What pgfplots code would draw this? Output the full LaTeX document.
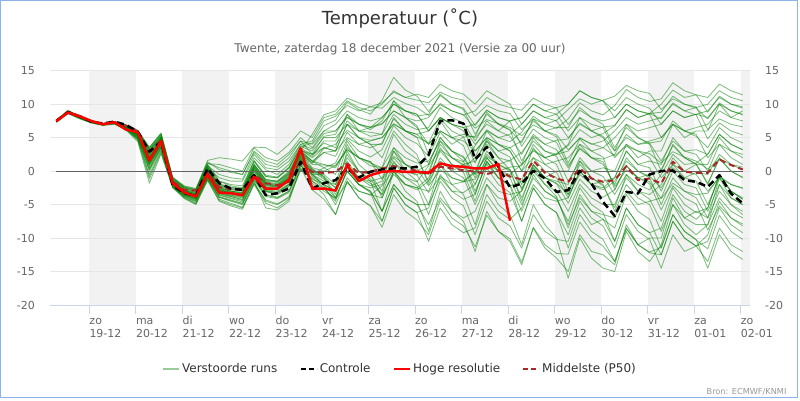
\documentclass[border=0pt]{standalone}
\usepackage{fontspec}
\setmainfont{DejaVu Sans}
\usepackage{pgfplots}
\pgfplotsset{compat=1.18}
\definecolor{ensgreen}{RGB}{0,128,0}
\definecolor{axblue}{RGB}{204,214,235}
\definecolor{gridgray}{RGB}{230,230,230}
\definecolor{bandgray}{RGB}{242,242,242}
\definecolor{labgray}{RGB}{102,102,102}
\definecolor{titlegray}{RGB}{51,51,51}
\definecolor{p50red}{RGB}{170,40,40}
\definecolor{frameblue}{RGB}{140,180,235}
\definecolor{zerogray}{RGB}{100,100,100}
\definecolor{credgray}{RGB}{153,153,153}
\pgfplotsset{ensline/.style={ensgreen, opacity=0.5, line width=0.85pt, line join=round}}
\newcommand\mem[1]{\addplot[ensline, forget plot] table[x expr=\coordindex, y index=0, header=false, row sep=\\]{#1};}
\pgfplotsset{common/.style={at={(50pt,95pt)}, anchor=south west, width=700pt, height=234.3pt, scale only axis,
  xmin=-0.545, xmax=59.63, ymin=-20, ymax=15,
  xtick={2.8333,6.8333,10.8333,14.8333,18.8333,22.8333,26.8333,30.8333,34.8333,38.8333,42.8333,46.8333,50.8333,54.8333,58.8333},
  ytick={-20,-15,-10,-5,0,5,10,15},
  yticklabels={-20,-15,-10,-5,0,5,10,15},
  axis line style={draw=none}, ytick style={draw=none},
  tick label style={font=\fontsize{11}{13}\selectfont, text=labgray, inner sep=0pt}}}
\begin{document}
\begin{tikzpicture}[x=1pt,y=1pt]
\useasboundingbox (0,0) rectangle (800,400);
\fill[white] (0,0) rectangle (800,400);
\node[anchor=base, font=\fontsize{18}{22}\selectfont, text=titlegray] at (400,375) {Temperatuur (˚C)};
\node[anchor=base, font=\fontsize{12}{14}\selectfont, text=labgray] at (400,348) {Twente, zaterdag 18 december 2021 (Versie za 00 uur)};
\node[anchor=base east, font=\fontsize{8.2}{10}\selectfont, text=credgray] at (790,6) {Bron: ECMWF/KNMI};

\begin{axis}[common, major tick length=0pt, xtick style={draw=none},
  yticklabel pos=right, yticklabel style={anchor=west, xshift=15pt},
  xticklabels={19-12,20-12,21-12,22-12,23-12,24-12,25-12,26-12,27-12,28-12,29-12,30-12,31-12,01-01,02-01},
  xticklabel style={anchor=base west, yshift=-32.3pt}]
\fill[bandgray] (axis cs:2.8333,-20) rectangle (axis cs:6.8333,15);
\fill[bandgray] (axis cs:10.8333,-20) rectangle (axis cs:14.8333,15);
\fill[bandgray] (axis cs:18.8333,-20) rectangle (axis cs:22.8333,15);
\fill[bandgray] (axis cs:26.8333,-20) rectangle (axis cs:30.8333,15);
\fill[bandgray] (axis cs:34.8333,-20) rectangle (axis cs:38.8333,15);
\fill[bandgray] (axis cs:42.8333,-20) rectangle (axis cs:46.8333,15);
\fill[bandgray] (axis cs:50.8333,-20) rectangle (axis cs:54.8333,15);
\fill[bandgray] (axis cs:58.8333,-20) rectangle (axis cs:59.63,15);
\end{axis}

\begin{axis}[common, clip=false, ymajorgrids, grid style={gridgray, line width=1pt},
  yticklabel style={anchor=east, xshift=-6pt},
  xtick pos=left, tick align=outside, major tick length=9pt, xtick style={axblue, line width=1pt},
  xticklabels={zo,ma,di,wo,do,vr,za,zo,ma,di,wo,do,vr,za,zo},
  xticklabel style={anchor=base west, yshift=-10pt},
  legend style={at={(0.5,-0.273)}, anchor=center, draw=none, fill=none, legend columns=4,
    font=\fontsize{12}{14}\selectfont, text=titlegray,
    /tikz/every even column/.append style={column sep=20pt}},
  legend cell align=left,
  legend image code/.code={\draw[#1] (0pt,0pt) -- (16pt,0pt);}]
\draw[axblue, line width=1pt] (rel axis cs:0,0) -- (rel axis cs:1,0);
\addlegendimage{ensgreen, opacity=0.4, line width=2pt}
\addlegendentry{Verstoorde runs}
\addlegendimage{black, line width=2.5pt, dash pattern=on 5pt off 3pt}
\addlegendentry{Controle}
\addlegendimage{red, line width=2.5pt}
\addlegendentry{Hoge resolutie}
\addlegendimage{p50red, line width=2pt, dash pattern=on 5pt off 3pt}
\addlegendentry{Middelste (P50)}

\mem{7.4\\8.9\\8.0\\7.3\\7.1\\7.4\\6.5\\5.2\\2.0\\4.8\\-1.5\\-2.8\\-3.5\\0.2\\-2.5\\-3.0\\-3.2\\0.5\\-1.8\\-2.2\\-0.8\\3.0\\5.5\\8.4\\9.0\\10.9\\10.2\\9.6\\9.4\\11.0\\10.1\\9.5\\8.3\\9.9\\9.0\\8.4\\6.4\\7.7\\7.1\\6.5\\5.3\\6.9\\6.0\\5.4\\3.2\\4.9\\4.1\\3.5\\2.3\\3.7\\3.0\\2.6\\1.2\\2.9\\2.1\\1.5\\0.3\\1.8\\1.0\\0.6\\}
\mem{7.6\\9.1\\8.2\\7.5\\7.0\\7.2\\6.8\\5.9\\3.2\\5.1\\-1.2\\-2.5\\-2.9\\0.9\\-1.5\\-2.2\\-2.5\\1.5\\-0.8\\-1.0\\0.5\\3.6\\4.2\\6.8\\7.6\\10.3\\9.2\\8.5\\10.6\\14.0\\12.1\\11.2\\8.9\\11.3\\10.0\\9.4\\6.8\\9.1\\8.0\\7.4\\3.7\\6.3\\5.0\\4.3\\0.8\\3.3\\2.0\\1.4\\-2.3\\0.2\\-1.0\\-1.6\\-4.1\\-1.8\\-3.0\\-3.5\\-3.3\\-0.7\\-2.0\\-2.6\\}
\mem{7.3\\8.6\\7.9\\7.2\\6.9\\7.1\\6.2\\4.8\\-0.5\\3.2\\-2.4\\-3.8\\-4.6\\-1.2\\-3.9\\-4.5\\-5.0\\-1.5\\-5.5\\-5.8\\-4.5\\0.5\\-2.8\\-4.2\\-6.5\\-1.5\\-4.0\\-5.2\\-8.4\\-3.5\\-6.0\\-7.3\\-9.5\\-4.4\\-7.0\\-8.2\\-11.3\\-6.6\\-9.0\\-10.1\\-13.6\\-8.4\\-11.0\\-12.3\\-12.4\\-7.6\\-10.0\\-11.2\\-13.5\\-8.6\\-11.0\\-12.1\\-11.4\\-6.5\\-9.0\\-10.3\\-11.6\\-6.6\\-9.0\\-10.2\\}
\mem{7.5\\8.7\\8.1\\7.4\\7.0\\7.3\\6.7\\5.7\\2.6\\4.9\\-1.6\\-3.0\\-3.4\\0.6\\-1.0\\-1.5\\-1.5\\2.0\\0.2\\-0.5\\1.0\\4.0\\3.3\\5.6\\6.0\\8.1\\7.0\\6.6\\7.1\\9.0\\8.0\\7.5\\8.0\\10.1\\9.0\\8.4\\9.0\\11.0\\10.0\\9.5\\9.1\\10.9\\10.0\\9.4\\7.0\\9.1\\8.0\\7.5\\8.0\\10.0\\9.0\\8.6\\10.0\\12.1\\11.0\\11.4\\11.0\\13.0\\12.0\\11.4\\}
\mem{7.5\\8.8\\8.1\\7.4\\7.0\\7.3\\6.6\\5.5\\1.9\\4.4\\-1.9\\-3.3\\-3.9\\-0.3\\-2.8\\-3.2\\-3.6\\-0.5\\-2.4\\-2.7\\-1.2\\2.6\\1.2\\3.4\\4.0\\6.1\\5.0\\4.6\\5.0\\7.1\\6.0\\5.5\\6.0\\8.0\\7.0\\6.5\\7.0\\9.1\\8.0\\7.5\\8.0\\10.0\\9.0\\9.5\\10.0\\12.0\\11.0\\10.5\\9.0\\11.0\\10.0\\9.4\\7.0\\9.0\\8.0\\8.5\\9.0\\11.0\\10.0\\9.6\\}
\mem{7.4\\8.8\\8.0\\7.3\\7.0\\7.2\\6.4\\5.0\\0.8\\3.9\\-2.0\\-3.5\\-4.2\\-0.8\\-3.4\\-3.8\\-4.3\\-1.0\\-3.0\\-3.5\\-2.2\\1.8\\0.2\\-1.0\\-4.0\\0.0\\-2.0\\-3.0\\-6.0\\-2.0\\-4.0\\-5.0\\-5.0\\-1.0\\-3.0\\-3.2\\-2.0\\2.0\\0.0\\-0.5\\1.0\\5.0\\3.0\\2.5\\4.0\\8.0\\6.0\\5.2\\3.0\\7.0\\5.0\\4.0\\0.0\\4.0\\2.0\\1.0\\-2.0\\2.0\\0.0\\-1.0\\}
\mem{7.6\\9.0\\8.2\\7.5\\7.1\\7.4\\6.9\\6.1\\3.6\\5.6\\-0.9\\-2.2\\-2.6\\1.2\\0.5\\0.0\\-0.5\\3.0\\1.5\\1.0\\2.5\\4.5\\2.5\\4.2\\3.5\\8.5\\6.0\\5.8\\5.5\\10.5\\8.0\\6.8\\2.5\\7.5\\5.0\\3.8\\-0.5\\4.5\\2.0\\0.2\\-4.5\\0.5\\-2.0\\-3.8\\-8.5\\-3.5\\-6.0\\-7.2\\-10.5\\-5.5\\-8.0\\-9.2\\-12.5\\-7.5\\-10.0\\-11.2\\-13.5\\-8.5\\-11.0\\-12.0\\}
\mem{7.5\\8.8\\8.1\\7.4\\7.0\\7.2\\6.5\\5.3\\1.2\\4.0\\-2.1\\-3.6\\-4.2\\-0.6\\-3.5\\-4.0\\-4.4\\-0.8\\-3.0\\-3.2\\-2.0\\2.0\\-1.5\\-2.6\\-4.2\\-1.8\\-3.0\\-3.6\\-2.2\\0.2\\-1.0\\-1.6\\0.8\\3.2\\2.0\\1.4\\3.8\\6.2\\5.0\\4.4\\5.8\\8.2\\7.0\\6.4\\7.8\\10.2\\9.0\\8.4\\9.8\\12.2\\11.0\\10.4\\10.8\\13.2\\12.0\\11.4\\8.8\\11.2\\10.0\\9.4\\}
\mem{7.3\\8.7\\7.9\\7.3\\6.9\\7.1\\6.3\\4.6\\-1.2\\2.8\\-2.3\\-3.9\\-4.8\\-0.9\\-4.2\\-4.8\\-5.4\\-1.8\\-4.5\\-5.0\\-3.8\\0.8\\-0.5\\-1.5\\-2.0\\4.0\\1.0\\-0.5\\-3.0\\3.0\\0.0\\-1.5\\-5.0\\1.0\\-2.0\\-3.5\\-8.0\\-2.0\\-5.0\\-6.5\\-11.0\\-5.0\\-8.0\\-10.0\\-16.0\\-10.0\\-13.0\\-14.5\\-15.0\\-9.0\\-12.0\\-13.5\\-11.0\\-5.0\\-8.0\\-9.5\\-8.0\\-2.0\\-5.0\\-6.5\\}
\mem{7.5\\8.9\\8.2\\7.4\\7.0\\7.3\\6.7\\5.8\\3.0\\5.3\\-1.3\\-2.6\\-3.1\\0.8\\-0.5\\-1.0\\-1.2\\2.5\\0.5\\0.2\\1.5\\4.0\\4.5\\7.5\\8.2\\9.8\\9.0\\9.6\\10.2\\11.8\\11.0\\10.6\\10.2\\11.8\\11.0\\10.6\\8.2\\9.8\\9.0\\8.6\\6.2\\7.8\\7.0\\7.6\\9.2\\10.8\\10.0\\10.6\\11.2\\12.8\\12.0\\11.6\\9.2\\10.8\\10.0\\9.6\\6.2\\7.8\\7.0\\6.6\\}
\mem{7.5\\8.8\\8.0\\7.4\\7.0\\7.3\\6.6\\5.4\\1.4\\4.2\\-1.8\\-3.2\\-3.7\\0.0\\-2.8\\-3.3\\-3.5\\0.2\\-2.0\\-2.3\\-1.0\\2.8\\-0.5\\-2.0\\-3.0\\1.0\\-1.0\\-1.5\\-1.0\\3.0\\1.0\\0.0\\1.0\\5.0\\3.0\\2.0\\-1.0\\3.0\\1.0\\0.0\\-4.0\\0.0\\-2.0\\-3.0\\-6.0\\-2.0\\-4.0\\-5.0\\-5.0\\-1.0\\-3.0\\-3.5\\-2.0\\2.0\\0.0\\1.0\\1.0\\5.0\\3.0\\2.0\\}
\mem{7.4\\8.8\\8.1\\7.3\\7.0\\7.3\\6.5\\5.5\\2.2\\4.6\\-1.6\\-3.1\\-3.6\\0.3\\-2.6\\-3.1\\-3.4\\0.6\\-1.6\\-1.9\\-0.5\\3.0\\1.5\\0.5\\-0.5\\4.5\\2.0\\0.8\\0.5\\5.5\\3.0\\1.8\\-1.5\\3.5\\1.0\\-0.2\\-4.5\\0.5\\-2.0\\-3.2\\-7.5\\-2.5\\-5.0\\-6.2\\-9.5\\-4.5\\-7.0\\-8.2\\-11.5\\-6.5\\-9.0\\-10.2\\-14.5\\-9.5\\-12.0\\-11.2\\-10.5\\-5.5\\-8.0\\-9.2\\}
\mem{7.6\\8.9\\8.2\\7.5\\7.1\\7.3\\6.7\\5.7\\2.8\\5.0\\-1.4\\-2.8\\-3.2\\0.7\\-2.0\\-2.5\\-2.7\\1.0\\-1.2\\-1.5\\0.0\\3.2\\2.2\\4.5\\4.5\\7.5\\6.0\\5.2\\5.5\\8.5\\7.0\\6.2\\6.5\\9.5\\8.0\\7.2\\4.5\\7.5\\6.0\\5.2\\2.5\\5.5\\4.0\\3.2\\0.5\\3.5\\2.0\\1.8\\2.5\\5.5\\4.0\\4.2\\4.5\\7.5\\6.0\\5.2\\3.5\\6.5\\5.0\\4.2\\}
\mem{7.4\\8.7\\8.0\\7.3\\6.9\\7.2\\6.3\\4.9\\0.2\\3.6\\-2.2\\-3.7\\-4.4\\-1.0\\-3.8\\-4.3\\-4.8\\-1.2\\-3.5\\-3.9\\-3.0\\1.0\\-1.8\\-3.5\\-6.5\\-1.5\\-4.0\\-5.2\\-7.5\\-2.5\\-5.0\\-6.2\\-5.5\\-0.5\\-3.0\\-4.2\\-3.5\\1.5\\-1.0\\-2.2\\-1.5\\3.5\\1.0\\-0.2\\-3.5\\1.5\\-1.0\\-2.2\\-5.5\\-0.5\\-3.0\\-4.2\\-7.5\\-2.5\\-5.0\\-6.2\\-5.5\\-0.5\\-3.0\\-4.2\\}
\mem{7.5\\8.8\\8.1\\7.4\\7.0\\7.3\\6.8\\5.9\\3.4\\5.4\\-1.1\\-2.4\\-2.8\\1.1\\1.0\\0.5\\0.0\\3.5\\2.0\\1.5\\2.8\\5.0\\3.5\\6.0\\7.0\\9.0\\8.0\\7.5\\8.0\\10.0\\9.0\\8.5\\6.0\\8.0\\7.0\\6.0\\3.0\\5.0\\4.0\\3.0\\0.0\\2.0\\1.0\\1.5\\2.0\\4.0\\3.0\\3.5\\5.0\\7.0\\6.0\\6.5\\7.0\\9.0\\8.0\\8.5\\8.0\\10.0\\9.0\\8.5\\}
\mem{7.5\\8.8\\8.1\\7.4\\7.0\\7.3\\6.6\\5.6\\1.7\\4.3\\-1.7\\-3.2\\-3.8\\-0.2\\-2.9\\-3.4\\-3.7\\-0.2\\-2.2\\-2.4\\-1.2\\2.4\\0.3\\-0.8\\-2.5\\0.5\\-1.0\\-1.8\\-3.5\\-0.5\\-2.0\\-2.8\\-1.5\\1.5\\0.0\\1.0\\1.5\\4.5\\3.0\\3.5\\4.5\\7.5\\6.0\\6.5\\6.5\\9.5\\8.0\\7.0\\3.5\\6.5\\5.0\\4.2\\1.5\\4.5\\3.0\\3.2\\2.5\\5.5\\4.0\\3.2\\}
\mem{7.3\\8.6\\7.8\\7.2\\6.8\\7.0\\6.1\\4.4\\-1.8\\2.6\\-2.5\\-4.1\\-5.0\\-1.3\\-4.5\\-5.2\\-5.7\\-2.0\\-4.8\\-5.5\\-4.2\\0.3\\-1.2\\-2.0\\-3.0\\3.0\\0.0\\-1.5\\-6.0\\0.0\\-3.0\\-4.5\\-9.0\\-3.0\\-6.0\\-7.5\\-12.0\\-6.0\\-9.0\\-10.5\\-14.0\\-8.5\\-11.5\\-13.0\\-15.0\\-9.5\\-12.0\\-12.5\\-14.0\\-8.0\\-11.0\\-10.0\\-10.0\\-4.0\\-7.0\\-6.0\\-7.0\\-1.0\\-4.0\\-5.0\\}
\mem{7.5\\8.8\\8.2\\7.4\\7.0\\7.3\\6.7\\5.7\\2.4\\4.9\\-1.5\\-2.9\\-3.3\\0.5\\-2.2\\-2.7\\-2.9\\0.9\\-1.4\\-1.6\\-0.3\\3.1\\2.5\\5.2\\5.5\\8.5\\7.0\\6.2\\7.5\\10.5\\9.0\\8.2\\8.5\\11.5\\10.0\\9.2\\5.5\\8.5\\7.0\\6.2\\1.5\\4.5\\3.0\\2.2\\-1.5\\1.5\\0.0\\-0.8\\-3.5\\-0.5\\-2.0\\-2.8\\-0.5\\2.5\\1.0\\1.2\\2.5\\5.5\\4.0\\3.2\\}
\mem{7.4\\8.8\\8.1\\7.3\\7.0\\7.3\\6.6\\5.5\\2.1\\4.6\\-1.7\\-3.0\\-3.6\\0.2\\-2.4\\-3.0\\-3.2\\0.7\\-1.7\\-2.0\\-0.6\\2.9\\1.2\\2.8\\3.0\\5.0\\4.0\\4.5\\5.0\\7.0\\6.0\\5.5\\4.0\\6.0\\5.0\\4.5\\3.0\\5.0\\4.0\\3.5\\1.0\\3.0\\2.0\\2.5\\3.0\\5.0\\4.0\\4.5\\6.0\\8.0\\7.0\\7.5\\8.0\\10.0\\9.0\\9.5\\10.0\\12.0\\11.0\\10.5\\}
\mem{7.5\\8.8\\8.0\\7.4\\7.0\\7.2\\6.4\\5.2\\0.5\\3.7\\-2.0\\-3.5\\-4.1\\-0.7\\-3.3\\-3.8\\-4.2\\-0.9\\-3.1\\-3.4\\-2.3\\1.5\\-0.8\\-2.0\\-4.0\\0.0\\-2.0\\-2.5\\-2.0\\2.0\\0.0\\-0.5\\0.0\\4.0\\2.0\\1.0\\-2.0\\2.0\\0.0\\-1.0\\-5.0\\-1.0\\-3.0\\-4.0\\-8.0\\-4.0\\-6.0\\-6.5\\-7.0\\-3.0\\-5.0\\-4.5\\-4.0\\0.0\\-2.0\\-2.5\\-6.0\\-2.0\\-4.0\\-5.0\\}
\mem{7.5\\8.9\\8.1\\7.4\\7.0\\7.3\\6.7\\5.8\\2.9\\5.0\\-1.4\\-2.7\\-3.2\\0.6\\-1.9\\-2.4\\-2.6\\1.4\\-0.8\\-1.0\\0.4\\3.4\\2.5\\3.5\\3.0\\7.0\\5.0\\4.0\\4.0\\8.0\\6.0\\5.0\\1.0\\5.0\\3.0\\1.5\\-3.0\\1.0\\-1.0\\-2.0\\-6.0\\-2.0\\-4.0\\-4.5\\-4.0\\0.0\\-2.0\\-1.5\\-1.0\\3.0\\1.0\\1.5\\1.0\\5.0\\3.0\\2.5\\0.0\\4.0\\2.0\\1.0\\}
\mem{7.4\\8.7\\8.0\\7.3\\6.9\\7.2\\6.4\\5.0\\0.4\\3.5\\-2.2\\-3.6\\-4.3\\-0.9\\-3.6\\-4.1\\-4.6\\-1.2\\-3.6\\-4.0\\-3.0\\1.0\\0.0\\-1.2\\-2.5\\2.5\\0.0\\-1.2\\-3.5\\1.5\\-1.0\\-2.2\\-6.5\\-1.5\\-4.0\\-5.2\\-9.5\\-4.5\\-7.0\\-8.2\\-11.5\\-6.5\\-9.0\\-10.2\\-10.5\\-5.5\\-8.0\\-7.2\\-8.5\\-3.5\\-6.0\\-7.2\\-11.5\\-6.5\\-9.0\\-10.2\\-14.5\\-9.5\\-12.0\\-13.2\\}
\mem{7.6\\9.0\\8.2\\7.5\\7.1\\7.4\\6.8\\5.9\\3.3\\5.5\\-1.0\\-2.3\\-2.7\\1.6\\2.0\\1.8\\1.5\\3.6\\3.5\\2.5\\4.0\\6.0\\5.0\\8.0\\8.5\\10.5\\9.5\\9.0\\10.0\\12.0\\11.0\\11.5\\11.0\\13.0\\12.0\\11.5\\10.0\\12.0\\11.0\\10.0\\7.0\\9.0\\8.0\\7.5\\5.0\\7.0\\6.0\\5.0\\2.0\\4.0\\3.0\\2.0\\-1.0\\1.0\\0.0\\-0.5\\-3.0\\-1.0\\-2.0\\-2.5\\}
\mem{7.5\\8.8\\8.1\\7.4\\7.0\\7.3\\6.5\\5.3\\1.0\\4.0\\-1.9\\-3.4\\-4.0\\-0.5\\-3.1\\-3.6\\-3.9\\-0.6\\-2.8\\-3.0\\-1.9\\2.0\\-0.5\\-2.2\\-5.0\\-1.0\\-3.0\\-3.5\\-4.0\\0.0\\-2.0\\-2.5\\-1.0\\3.0\\1.0\\0.5\\2.0\\6.0\\4.0\\3.0\\0.0\\4.0\\2.0\\1.0\\-3.0\\1.0\\-1.0\\-2.0\\-6.0\\-2.0\\-4.0\\-5.0\\-9.0\\-5.0\\-7.0\\-8.0\\-8.0\\-4.0\\-6.0\\-7.0\\}
\mem{7.5\\8.8\\8.1\\7.4\\7.0\\7.3\\6.6\\5.5\\1.8\\4.5\\-1.7\\-3.1\\-3.7\\0.1\\-2.7\\-3.2\\-3.4\\0.3\\-2.0\\-2.2\\-1.0\\2.7\\0.5\\0.0\\0.8\\3.2\\2.0\\1.4\\-0.2\\2.2\\1.0\\0.4\\-2.2\\0.2\\-1.0\\-1.6\\-1.2\\1.2\\0.0\\0.6\\0.8\\3.2\\2.0\\2.6\\3.8\\6.2\\5.0\\5.6\\6.8\\9.2\\8.0\\8.6\\7.8\\10.2\\9.0\\8.4\\4.8\\7.2\\6.0\\5.4\\}
\mem{7.5\\8.9\\8.1\\7.4\\7.0\\7.3\\6.6\\5.6\\2.3\\4.7\\-1.6\\-3.0\\-3.5\\0.4\\-2.3\\-2.8\\-3.0\\0.8\\-1.5\\-1.7\\-0.4\\3.2\\2.0\\3.5\\3.0\\7.0\\5.0\\4.0\\2.0\\6.0\\4.0\\2.5\\-2.0\\2.0\\0.0\\-1.0\\-5.0\\-1.0\\-3.0\\-3.5\\-3.0\\1.0\\-1.0\\0.0\\0.0\\4.0\\2.0\\1.0\\-2.0\\2.0\\0.0\\-1.0\\-5.0\\-1.0\\-3.0\\-4.0\\-7.0\\-3.0\\-5.0\\-6.0\\}
\mem{7.4\\8.7\\8.0\\7.3\\6.9\\7.1\\6.3\\4.9\\0.0\\3.4\\-2.3\\-3.8\\-4.5\\-1.1\\-3.9\\-4.4\\-4.9\\-1.4\\-3.8\\-4.1\\-3.2\\0.9\\-1.5\\-3.0\\-4.0\\0.0\\-2.0\\-3.0\\-6.0\\-2.0\\-4.0\\-5.0\\-8.0\\-4.0\\-6.0\\-7.0\\-6.0\\-2.0\\-4.0\\-4.5\\-3.0\\1.0\\-1.0\\-1.5\\-2.0\\2.0\\0.0\\0.5\\0.0\\4.0\\2.0\\3.0\\3.0\\7.0\\5.0\\6.0\\6.0\\10.0\\8.0\\9.0\\}
\mem{7.5\\8.8\\8.1\\7.4\\7.0\\7.3\\6.7\\5.6\\2.5\\4.8\\-1.5\\-2.9\\-3.4\\0.5\\-2.1\\-2.6\\-2.8\\1.0\\-1.3\\-1.5\\-0.2\\3.1\\1.5\\2.8\\2.2\\5.8\\4.0\\3.5\\4.2\\7.8\\6.0\\5.1\\4.2\\7.8\\6.0\\5.1\\1.2\\4.8\\3.0\\2.1\\-2.8\\0.8\\-1.0\\-1.9\\-4.8\\-1.2\\-3.0\\-3.9\\-2.8\\0.8\\-1.0\\-0.5\\0.2\\3.8\\2.0\\1.1\\-1.8\\1.8\\0.0\\-0.9\\}
\mem{7.5\\8.8\\8.1\\7.4\\7.0\\7.3\\6.5\\5.4\\1.5\\4.3\\-1.8\\-3.2\\-3.8\\-0.1\\-2.8\\-3.3\\-3.5\\0.1\\-2.1\\-2.4\\-1.1\\2.6\\1.0\\0.9\\0.8\\3.2\\2.0\\1.4\\-1.2\\1.2\\0.0\\-0.6\\-3.2\\-0.8\\-2.0\\-1.6\\-0.2\\2.2\\1.0\\1.6\\2.8\\5.2\\4.0\\4.6\\4.8\\7.2\\6.0\\6.6\\6.8\\9.2\\8.0\\8.6\\8.8\\11.2\\10.0\\9.4\\7.8\\10.2\\9.0\\8.4\\}
\mem{7.5\\8.8\\8.0\\7.4\\7.0\\7.2\\6.5\\5.3\\1.3\\4.1\\-1.9\\-3.3\\-3.9\\-0.4\\-3.0\\-3.5\\-3.8\\-0.4\\-2.5\\-2.8\\-1.6\\2.2\\-0.5\\0.5\\1.2\\4.8\\3.0\\2.1\\3.2\\6.8\\5.0\\4.1\\2.2\\5.8\\4.0\\5.1\\5.2\\8.8\\7.0\\6.1\\4.2\\7.8\\6.0\\5.1\\1.2\\4.8\\3.0\\2.1\\-2.8\\0.8\\-1.0\\-1.9\\-5.8\\-2.2\\-4.0\\-4.9\\-8.8\\-5.2\\-7.0\\-7.9\\}
\mem{7.6\\8.9\\8.2\\7.5\\7.1\\7.3\\6.8\\5.8\\3.1\\5.2\\-1.2\\-2.5\\-3.0\\1.0\\-1.5\\-2.0\\-2.2\\1.6\\-0.6\\-0.9\\0.6\\3.7\\3.0\\5.0\\5.0\\7.0\\6.0\\6.5\\8.0\\10.0\\9.0\\8.5\\6.0\\8.0\\7.0\\6.5\\4.0\\6.0\\5.0\\5.5\\7.0\\9.0\\8.0\\8.5\\10.0\\12.0\\11.0\\10.5\\8.0\\10.0\\9.0\\8.5\\5.0\\7.0\\6.0\\5.5\\2.0\\4.0\\3.0\\2.5\\}
\mem{7.4\\8.7\\7.9\\7.3\\6.9\\7.1\\6.2\\4.7\\-0.8\\3.0\\-2.4\\-4.0\\-4.9\\-1.4\\-4.4\\-5.0\\-5.5\\-1.8\\-4.3\\-4.9\\-4.0\\0.2\\-1.0\\-2.5\\-4.5\\0.5\\-2.0\\-3.2\\-7.5\\-2.5\\-5.0\\-6.2\\-10.5\\-5.5\\-8.0\\-9.2\\-8.5\\-3.5\\-6.0\\-7.2\\-5.5\\-0.5\\-3.0\\-4.2\\-7.5\\-2.5\\-5.0\\-6.2\\-10.5\\-5.5\\-8.0\\-9.2\\-8.5\\-3.5\\-6.0\\-7.2\\-5.5\\-0.5\\-3.0\\-4.2\\}
\mem{7.5\\8.8\\8.1\\7.4\\7.0\\7.3\\6.6\\5.6\\2.0\\4.6\\-1.6\\-3.1\\-3.6\\0.2\\-2.5\\-3.0\\-3.3\\0.4\\-1.9\\-2.1\\-0.8\\2.8\\1.5\\1.0\\0.5\\3.5\\2.0\\1.2\\0.5\\3.5\\2.0\\1.2\\1.5\\4.5\\3.0\\2.2\\-0.5\\2.5\\1.0\\0.2\\-2.5\\0.5\\-1.0\\-1.8\\-3.5\\-0.5\\-2.0\\-2.8\\-1.5\\1.5\\0.0\\-0.8\\-2.5\\0.5\\-1.0\\-0.2\\-0.5\\2.5\\1.0\\0.2\\}
\mem{7.5\\8.8\\8.0\\7.4\\7.0\\7.2\\6.5\\5.1\\0.9\\3.8\\-2.0\\-3.5\\-4.1\\-0.6\\-3.2\\-3.7\\-4.0\\-0.7\\-2.9\\-3.2\\-2.0\\1.7\\0.3\\-0.8\\-3.5\\1.5\\-1.0\\-2.2\\-1.5\\3.5\\1.0\\-0.2\\-0.5\\4.5\\2.0\\0.8\\-3.5\\1.5\\-1.0\\-2.2\\-7.5\\-2.5\\-5.0\\-6.2\\-11.5\\-6.5\\-9.0\\-10.2\\-13.5\\-8.5\\-11.0\\-12.2\\-12.5\\-7.5\\-10.0\\-11.2\\-9.5\\-4.5\\-7.0\\-8.2\\}
\mem{7.6\\9.0\\8.2\\7.5\\7.1\\7.4\\6.8\\5.9\\3.5\\5.7\\-1.0\\-2.4\\-2.8\\1.4\\0.2\\-0.2\\-0.5\\2.8\\1.0\\0.6\\2.0\\4.5\\4.0\\6.0\\6.0\\8.0\\7.0\\6.5\\7.0\\9.0\\8.0\\6.5\\4.0\\6.0\\5.0\\5.5\\5.0\\7.0\\6.0\\7.5\\8.0\\10.0\\9.0\\8.5\\6.0\\8.0\\7.0\\6.5\\3.0\\5.0\\4.0\\4.5\\5.0\\7.0\\6.0\\6.5\\7.0\\9.0\\8.0\\7.5\\}
\mem{7.5\\8.8\\8.1\\7.4\\7.0\\7.3\\6.6\\5.4\\1.1\\4.1\\-1.8\\-3.3\\-3.9\\-0.2\\-2.9\\-3.4\\-3.6\\0.0\\-2.3\\-2.6\\-1.4\\2.3\\-0.5\\-0.5\\-2.0\\2.0\\0.0\\-0.5\\-4.0\\0.0\\-2.0\\-2.5\\-3.0\\1.0\\-1.0\\-1.5\\0.0\\4.0\\2.0\\1.5\\-2.0\\2.0\\0.0\\-1.0\\-4.0\\0.0\\-2.0\\-2.5\\-1.0\\3.0\\1.0\\0.5\\-3.0\\1.0\\-1.0\\-1.5\\-5.0\\-1.0\\-3.0\\-4.0\\}

\addplot[zerogray, line width=1pt, forget plot] coordinates {(0,0) (59,0)};
\addplot[p50red, line width=2pt, dash pattern=on 6pt off 4pt, line join=round, forget plot] table[x expr=\coordindex, y index=0, header=false, row sep=\\]{7.5\\8.7\\8.1\\7.4\\7.0\\7.3\\6.8\\6.0\\3.0\\4.5\\-1.5\\-2.8\\-2.9\\-0.3\\-2.4\\-2.7\\-2.8\\-0.5\\-1.8\\-2.1\\-1.6\\1.5\\-0.1\\-0.3\\-0.1\\1.15\\-0.3\\-0.1\\0.4\\0.75\\0.4\\0.05\\-0.45\\0.65\\0.4\\0.15\\-0.1\\-0.45\\0.05\\-0.8\\-1.25\\1.55\\-0.25\\-1.1\\-1.6\\0.4\\-1.1\\-1.6\\-1.35\\0.75\\-1.35\\-1.1\\-1.85\\1.4\\-0.1\\-0.25\\-0.25\\1.75\\0.9\\0.25\\};
\addplot[black, line width=2.5pt, dash pattern=on 7pt off 4pt, line join=round, forget plot] table[x expr=\coordindex, y index=0, header=false, row sep=\\]{7.5\\8.8\\8.2\\7.4\\7.1\\7.4\\6.9\\5.9\\2.9\\4.4\\-2.1\\-3.3\\-3.7\\0.4\\-1.8\\-2.6\\-2.8\\-0.6\\-3.6\\-3.3\\-2.6\\1.4\\-2.6\\-1.8\\-1.35\\0.4\\-0.95\\-0.1\\0.25\\0.4\\0.4\\0.65\\2.4\\7.5\\7.6\\7.1\\1.75\\3.6\\0.65\\-2.45\\-1.85\\0.05\\-1.1\\-3.1\\-2.85\\0.05\\-1.85\\-4.6\\-6.7\\-3.1\\-3.35\\-0.5\\0.0\\0.1\\-1.35\\-1.6\\-2.35\\-0.6\\-3.35\\-4.8\\};
\addplot[red, line width=2.5pt, line join=round, forget plot] table[x expr=\coordindex, y index=0, header=false, row sep=\\]{7.47\\8.77\\8.2\\7.5\\7.0\\7.3\\6.2\\5.8\\1.6\\4.5\\-1.8\\-3.2\\-3.8\\-0.45\\-3.2\\-3.3\\-3.6\\-0.85\\-2.6\\-2.6\\-1.3\\3.4\\-2.6\\-2.6\\-2.9\\0.9\\-1.5\\-0.6\\-0.1\\0.0\\-0.1\\-0.1\\-0.25\\1.15\\0.75\\0.65\\0.4\\0.4\\1.05\\-7.4\\};
\end{axis}
\draw[frameblue, line width=1pt] (0.5,2.5) rectangle (797,399.5);
\end{tikzpicture}
\end{document}
